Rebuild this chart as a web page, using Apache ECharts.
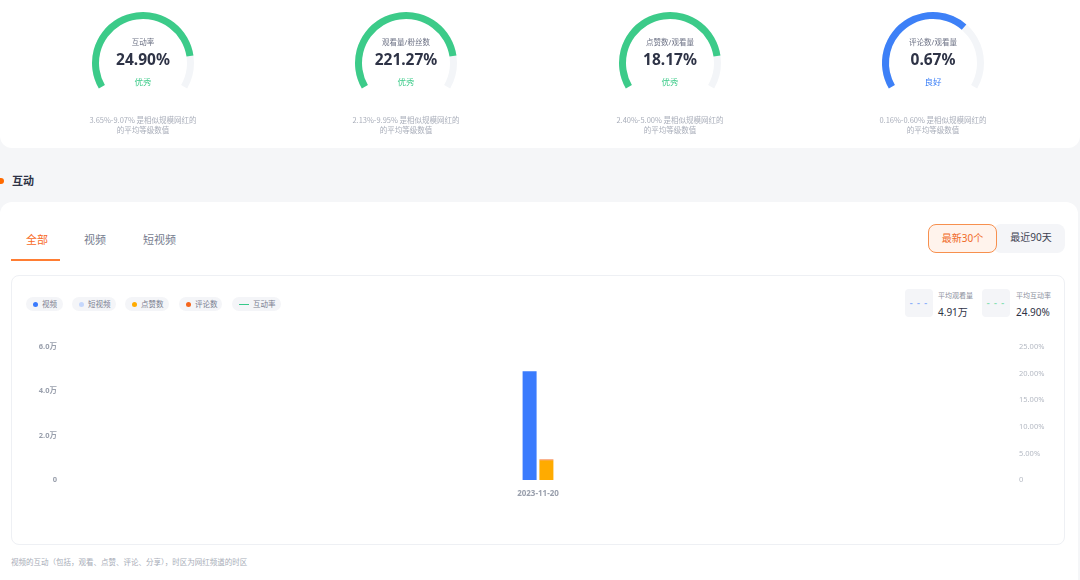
<!DOCTYPE html>
<html>
<head>
<meta charset="utf-8">
<script src="https://cdn.jsdelivr.net/npm/echarts@6/dist/echarts.min.js"></script>
<style>
  body { margin: 0; width: 1080px; height: 580px; overflow: hidden; background: #f5f6f8;
    font-family: "Noto Sans", "Noto Sans CJK SC", sans-serif; position: relative; }
  .abs { position: absolute; }
  .card1 { left: 0; top: -12px; width: 1080px; height: 160px; background: #fff; border-radius: 12px; }
  .card2 { left: 0; top: 202px; width: 1078px; height: 420px; background: #fff; border-radius: 12px; }
  .sec-dot { left: -2px; top: 178px; width: 6px; height: 6px; border-radius: 50%; background: #ff6a00; }
  .sec-title { left: 12px; top: 173px; font-size: 11px; line-height: 16px; font-weight: bold; color: #2e3346; }
  .tab { top: 232px; font-size: 11px; line-height: 16px; color: #767c8e; }
  .tab.on { color: #f86a26; }
  .tab-line { left: 11px; top: 259px; width: 49px; height: 2px; background: #ff7d33; }
  .btn { top: 224px; height: 29px; box-sizing: border-box; font-size: 10px; line-height: 27px; text-align: center; border-radius: 8px; }
  .btn1 { left: 928px; width: 69px; border: 1px solid #f7904e; background: #fff3ec; color: #f06a28; z-index: 2; }
  .btn2 { left: 993px; width: 72px; background: #f4f5f8; color: #3c4252; padding-left: 4px; }
  .inner { left: 11px; top: 275px; width: 1054px; height: 270px; box-sizing: border-box; border: 1px solid #eef0f4; border-radius: 8px; }
  .chip { top: 297px; height: 14px; border-radius: 7px; background: #f4f5f8; font-size: 7.5px; line-height: 14px; color: #7b8090; box-sizing: border-box; padding-left: 7px; white-space: nowrap; }
  .chip i { display: inline-block; width: 5px; height: 5px; border-radius: 50%; margin-right: 4px; vertical-align: 0.5px; }
  .chip b { display: inline-block; width: 10px; height: 1.5px; margin-right: 4px; vertical-align: 2px; }
  .sbox { top: 289px; width: 28px; height: 28px; border-radius: 4px; background: #f4f5f8; text-align: center; font-size: 9px; line-height: 28px; letter-spacing: 1px; font-weight: bold; }
  .slab { top: 291px; font-size: 7px; line-height: 10px; color: #8c91a0; }
  .sval { top: 305px; font-size: 10px; line-height: 14px; color: #2e3346; }
  .note { left: 11px; top: 556px; font-size: 7.5px; line-height: 12px; color: #a8adb8; }
  #chart { position: absolute; left: 0; top: 0; width: 1080px; height: 580px; z-index: 5; }
</style>
</head>
<body>
<div class="abs card1"></div>
<div class="abs sec-dot"></div>
<div class="abs sec-title">互动</div>
<div class="abs card2"></div>
<div class="abs tab on" style="left:26px">全部</div>
<div class="abs tab" style="left:84px">视频</div>
<div class="abs tab" style="left:143px">短视频</div>
<div class="abs tab-line"></div>
<div class="abs btn btn2">最近90天</div>
<div class="abs btn btn1">最新30个</div>
<div class="abs inner"></div>
<div id="legend"></div>
<div class="abs sbox" style="left:905px;color:#8fb2fa">- - -</div>
<div class="abs slab" style="left:938px">平均观看量</div>
<div class="abs sval" style="left:938px" id="avgView"></div>
<div class="abs sbox" style="left:982px;color:#8be0b6">- - -</div>
<div class="abs slab" style="left:1016px">平均互动率</div>
<div class="abs sval" style="left:1016px" id="avgRate"></div>
<div class="abs note">视频的互动（包括，观看、点赞、评论、分享），时区为网红频道的时区</div>
<div id="chart"></div>

<script>
// 顶部仪表盘数据
const gaugeNames = ['互动率', '观看量/粉丝数', '点赞数/观看量', '评论数/观看量']
const gaugeTexts = ['24.90%', '221.27%', '18.17%', '0.67%']
const gaugeFill = [84, 84, 84, 67]
const gaugeLevels = ['优秀', '优秀', '优秀', '良好']
const gaugeRanges = ['3.65%-9.07%', '2.13%-9.95%', '2.40%-5.00%', '0.16%-0.60%']

// 互动图表数据
const dates = ['2023-11-20']
const videoData = [49100]
const shortData = [0]
const likeData = [8920]
const commentData = [329]
const rateData = [24.90]
const avgView = '4.91万'
const avgRate = '24.90%'

const legendItems = [
  { name: '视频', color: '#3a7bfd', left: 26, width: 37 },
  { name: '短视频', color: '#c5d7fc', left: 72, width: 44 },
  { name: '点赞数', color: '#ffab00', left: 125, width: 44 },
  { name: '评论数', color: '#f5661d', left: 179, width: 43 },
  { name: '互动率', color: '#36c98a', left: 232, width: 49, line: true }
]

const levelColor = { '优秀': '#3ccb89', '良好': '#3d80f7' }
const gaugeX = [143, 406, 670, 933]
const gaugeY = 63

/**
 * 图例
 */
document.getElementById('legend').innerHTML = legendItems.map(item =>
  `<div class="abs chip" style="left:${item.left}px;width:${item.width}px">` +
  (item.line ? `<b style="background:${item.color}"></b>` : `<i style="background:${item.color}"></i>`) +
  `${item.name}</div>`
).join('')
document.getElementById('avgView').textContent = avgView
document.getElementById('avgRate').textContent = avgRate

const chart = echarts.init(document.getElementById('chart'))

const gaugeSeries = gaugeNames.map((name, i) => {
  const color = levelColor[gaugeLevels[i]]
  return {
    type: 'gauge',
    center: [gaugeX[i], gaugeY],
    radius: 51,
    startAngle: 210,
    endAngle: -30,
    min: 0,
    max: 100,
    progress: { show: true, width: 7, itemStyle: { color } },
    axisLine: { lineStyle: { width: 7, color: [[1, '#f3f5f8']] } },
    pointer: { show: false },
    axisTick: { show: false },
    splitLine: { show: false },
    axisLabel: { show: false },
    anchor: { show: false },
    title: { offsetCenter: [0, -20], fontSize: 7.5, color: '#6e7386' },
    detail: {
      offsetCenter: [0, -2],
      fontSize: 15.5,
      fontWeight: 'bold',
      color: '#2e3346',
      fontFamily: 'Noto Sans',
      formatter: () => gaugeTexts[i]
    },
    data: [{ value: gaugeFill[i], name }]
  }
})

const gaugeGraphics = []
gaugeNames.forEach((name, i) => {
  gaugeGraphics.push({
    type: 'text',
    x: gaugeX[i],
    y: 82,
    style: {
      text: gaugeLevels[i],
      fill: levelColor[gaugeLevels[i]],
      font: '8.5px "Noto Sans CJK SC"',
      textAlign: 'center',
      textVerticalAlign: 'middle'
    }
  })
  gaugeGraphics.push({
    type: 'text',
    x: gaugeX[i],
    y: 125,
    style: {
      text: gaugeRanges[i] + ' 是相似规模网红的\n的平均等级数值',
      fill: '#a9aeba',
      font: '7.5px "Noto Sans CJK SC"',
      lineHeight: 10.5,
      textAlign: 'center',
      textVerticalAlign: 'middle'
    }
  })
})

const option = {
  animation: false,
  textStyle: { fontFamily: '"Noto Sans", "Noto Sans CJK SC"' },
  graphic: gaugeGraphics,
  legend: { show: false },
  tooltip: { trigger: 'axis' },
  grid: { left: 65, right: 69, top: 347, bottom: 100 },
  xAxis: {
    type: 'category',
    data: dates,
    axisLine: { show: false },
    axisTick: { show: false },
    axisLabel: { color: '#9aa0ad', fontSize: 8, fontWeight: 'bold', margin: 10 }
  },
  yAxis: [
    {
      type: 'value',
      min: 0,
      max: 60000,
      interval: 20000,
      splitLine: { show: false },
      axisLabel: {
        color: '#9aa0ad',
        fontSize: 7.5,
        fontWeight: 'bold',
        margin: 8,
        formatter: v => (v === 0 ? '0' : (v / 10000).toFixed(1) + '万')
      }
    },
    {
      type: 'value',
      min: 0,
      max: 25,
      interval: 5,
      splitLine: { show: false },
      axisLabel: {
        color: '#b5bac4',
        fontSize: 7.5,
        margin: 8,
        formatter: v => (v === 0 ? '0' : v.toFixed(2) + '%')
      }
    }
  ],
  series: [
    ...gaugeSeries,
    { name: '视频', type: 'bar', stack: 'view', data: videoData, barWidth: 14, barGap: '20%', itemStyle: { color: '#3a7bfd' } },
    { name: '短视频', type: 'bar', stack: 'view', data: shortData, barWidth: 14, itemStyle: { color: '#c5d7fc' } },
    { name: '点赞数', type: 'bar', stack: 'act', data: likeData, barWidth: 14, itemStyle: { color: '#ffab00' } },
    { name: '评论数', type: 'bar', stack: 'act', data: commentData, barWidth: 14, itemStyle: { color: '#f5661d' } },
    { name: '互动率', type: 'line', yAxisIndex: 1, data: rateData, showSymbol: false, lineStyle: { color: '#36c98a', width: 2 } }
  ]
}

chart.setOption(option)
</script>
</body>
</html>
